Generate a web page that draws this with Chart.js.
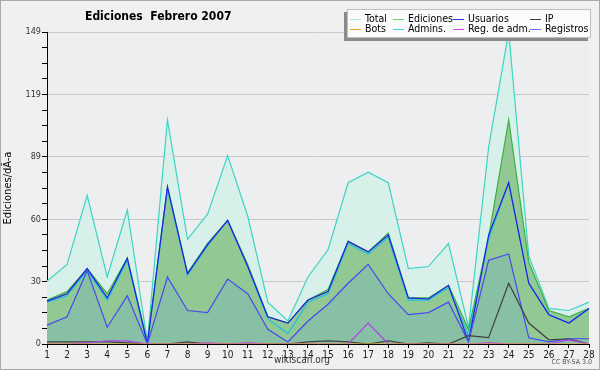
<!DOCTYPE html>
<html>
<head>
<meta charset="utf-8">
<script src="https://cdn.jsdelivr.net/npm/chart.js@4.4.1/dist/chart.umd.min.js"></script>
<style>
  html, body { margin: 0; padding: 0; background: #f0f0f0; }
  canvas { display: block; }
</style>
</head>
<body>
<canvas id="editChart" width="600" height="370"></canvas>
<script>
////// data //////
const days = ['1', '2', '3', '4', '5', '6', '7', '8', '9', '10', '11', '12', '13', '14',
  '15', '16', '17', '18', '19', '20', '21', '22', '23', '24', '25', '26', '27', '28'];

const total = [30, 38, 71, 32, 64, 1, 107, 50, 62, 90, 61, 20, 11, 32, 45, 77, 82, 77, 36, 37, 48, 8, 94, 149, 42, 17, 16, 20];
const ediciones = [21, 25, 36, 24, 41, 1, 75, 34, 48, 59, 38, 13, 10, 21, 26, 49, 44, 53, 22, 22, 28, 7, 51, 107, 39, 16, 13, 17];
const usuarios = [20.5, 24, 36, 22, 41, 0, 75, 33.5, 47.5, 59, 37, 13, 10, 21, 25, 49, 44, 52, 22, 21.5, 28, 1, 52, 77, 29, 14, 10, 17];
const ip = [1, 1, 1, 1, 0.5, 0, 0, 1, 0, 0, 0, 0, 0, 1, 1.5, 1, 0, 1.5, 0, 0.5, 0, 4, 3, 29, 10, 2, 2.5, 0];
const bots = [0, 0, 0, 0, 0, 0, 0, 0, 0, 0, 0, 0, 0, 0, 0, 0, 0, 0, 0, 0, 0, 0, 0, 0, 0, 0, 0, 0];
const admins = [20, 23, 35, 21, 40, 0, 74, 33, 47, 59, 37, 12, 5, 20, 24, 48, 43, 51, 21, 21, 27, 4, 50, 77, 29, 14, 10, 17];
const regAdm = [0, 0, 0.5, 1.5, 1.5, 0, 0, 0, 0.5, 0, 0.5, 0, 0, 0, 0, 0, 10, 0, 0, 0, 0, 0, 0.5, 0, 0, 0, 2, 0];
const registros = [9, 13, 35, 8, 23, 0, 32, 16, 15, 31, 24, 7, 1, 11, 19, 29, 38, 24, 14, 15, 20, 1, 40, 43, 3, 1, 2.5, 2.5];

const yMax = 149;
const yTickLabels = ['0', '30', '60', '89', '119', '149'];

const FONT = '"DejaVu Sans Condensed", "DejaVu Sans", sans-serif';
Chart.defaults.font.family = FONT;

////// helpers //////
function serie(label, data, color, order, fillColor) {
  return {
    label: label,
    data: data,
    borderColor: color,
    borderWidth: 1.2,
    pointRadius: 0,
    tension: 0,
    order: order,
    fill: fillColor ? 'origin' : false,
    backgroundColor: fillColor || color
  };
}

// fondo, marco, titulo y textos del pie
const frame = {
  id: 'frame',
  beforeDraw(chart) {
    const c = chart.ctx;
    const a = chart.chartArea;
    c.save();
    c.fillStyle = '#f0f0f0';
    c.fillRect(0, 0, chart.width, chart.height);
    c.strokeStyle = '#a8a8a8';
    c.lineWidth = 1;
    c.strokeRect(0.5, 0.5, chart.width - 1, chart.height - 1);
    c.fillStyle = '#eceef0';
    c.fillRect(a.left, a.top, a.right - a.left, a.bottom - a.top);
    c.restore();
  },
  afterDraw(chart) {
    const c = chart.ctx;
    c.save();
    c.fillStyle = '#000';
    c.textBaseline = 'middle';
    c.font = 'bold 12px ' + FONT;
    c.textAlign = 'left';
    c.fillText('Ediciones  Febrero 2007', 85, 17);
    c.fillStyle = '#333';
    c.font = '10px ' + FONT;
    c.textAlign = 'center';
    c.fillText('wikiscan.org', 302, 360);
    c.font = '7px ' + FONT;
    c.textAlign = 'right';
    c.fillStyle = '#555';
    c.fillText('CC BY-SA 3.0', 592, 362);
    c.restore();
  }
};

// leyenda en 4 columnas
const legendBox = {
  id: 'legendBox',
  afterDraw(chart) {
    const c = chart.ctx;
    const x0 = 347, y0 = 9, w = 244, h = 29;
    c.save();
    c.fillStyle = '#8a8a8a';
    c.fillRect(x0 - 3, y0 + 3, w, h);
    c.fillStyle = '#fbfbfb';
    c.fillRect(x0, y0, w, h);
    c.strokeStyle = '#c0c0c0';
    c.strokeRect(x0 + 0.5, y0 + 0.5, w - 1, h - 1);
    const cols = [350, 393, 453, 530];
    const rows = [19, 29];
    c.font = '10.5px ' + FONT;
    c.textBaseline = 'middle';
    c.textAlign = 'left';
    chart.data.datasets.forEach((ds, i) => {
      const x = cols[i % 4];
      const y = rows[Math.floor(i / 4)];
      c.strokeStyle = ds.legendColor || ds.borderColor;
      c.lineWidth = 1;
      c.beginPath();
      c.moveTo(x, y + 0.5);
      c.lineTo(x + 11, y + 0.5);
      c.stroke();
      c.fillStyle = '#000';
      c.fillText(ds.label, x + 15, y);
    });
    c.restore();
  }
};

////// chart //////
const datasets = [
  serie('Total', total, '#3dd4c4', 8, '#d8f0ea'),
  serie('Ediciones', ediciones, '#3cb043', 7, '#92c894'),
  serie('Usuarios', usuarios, '#2020e0', 5),
  serie('IP', ip, '#404040', 3),
  serie('Bots', bots, '#f0a020', 1),
  serie('Admins.', admins, '#1cc0e4', 6),
  serie('Reg. de adm.', regAdm, '#b040e8', 2),
  serie('Registros', registros, '#4848f0', 4, '#88c0a6')
];
datasets[0].legendColor = '#a8ece4';
datasets[1].legendColor = '#70d070';
datasets[2].legendColor = '#3030f0';
datasets[5].legendColor = '#40d8e8';
datasets[6].legendColor = '#e040f0';
datasets[7].legendColor = '#7070ff';

new Chart(document.getElementById('editChart'), {
  type: 'line',
  data: { labels: days, datasets: datasets },
  options: {
    responsive: false,
    animation: false,
    devicePixelRatio: 1,
    layout: { padding: { top: 32, right: 11, bottom: 0, left: 0 } },
    plugins: {
      legend: { display: false },
      tooltip: { enabled: false }
    },
    scales: {
      x: {
        afterFit(scale) { scale.height = 26; },
        grid: { drawOnChartArea: false, tickLength: 4, tickColor: '#000' },
        border: { color: '#000' },
        ticks: { color: '#222', font: { size: 10 }, padding: 1, maxRotation: 0, autoSkip: false }
      },
      y: {
        min: 0,
        max: yMax,
        afterFit(scale) { scale.width = 47; },
        afterBuildTicks(scale) {
          const t = [];
          for (let i = 0; i <= 20; i++) t.push({ value: yMax * i / 20 });
          scale.ticks = t;
        },
        grid: {
          tickLength: 5,
          tickColor: '#000',
          color: (ctx) => (ctx.index % 4 === 0 && ctx.index > 0) ? '#c8c8c8' : 'rgba(0,0,0,0)'
        },
        border: { color: '#000' },
        ticks: {
          color: '#333',
          font: { size: 9 },
          padding: 1,
          callback: (v, i) => (i % 4 === 0 ? yTickLabels[i / 4] : '')
        },
        title: {
          display: true,
          text: 'Ediciones/dÃ-a',
          color: '#000',
          font: { size: 11 },
          padding: { top: 2, bottom: 0 }
        }
      }
    }
  },
  plugins: [frame, legendBox]
});
</script>
</body>
</html>
